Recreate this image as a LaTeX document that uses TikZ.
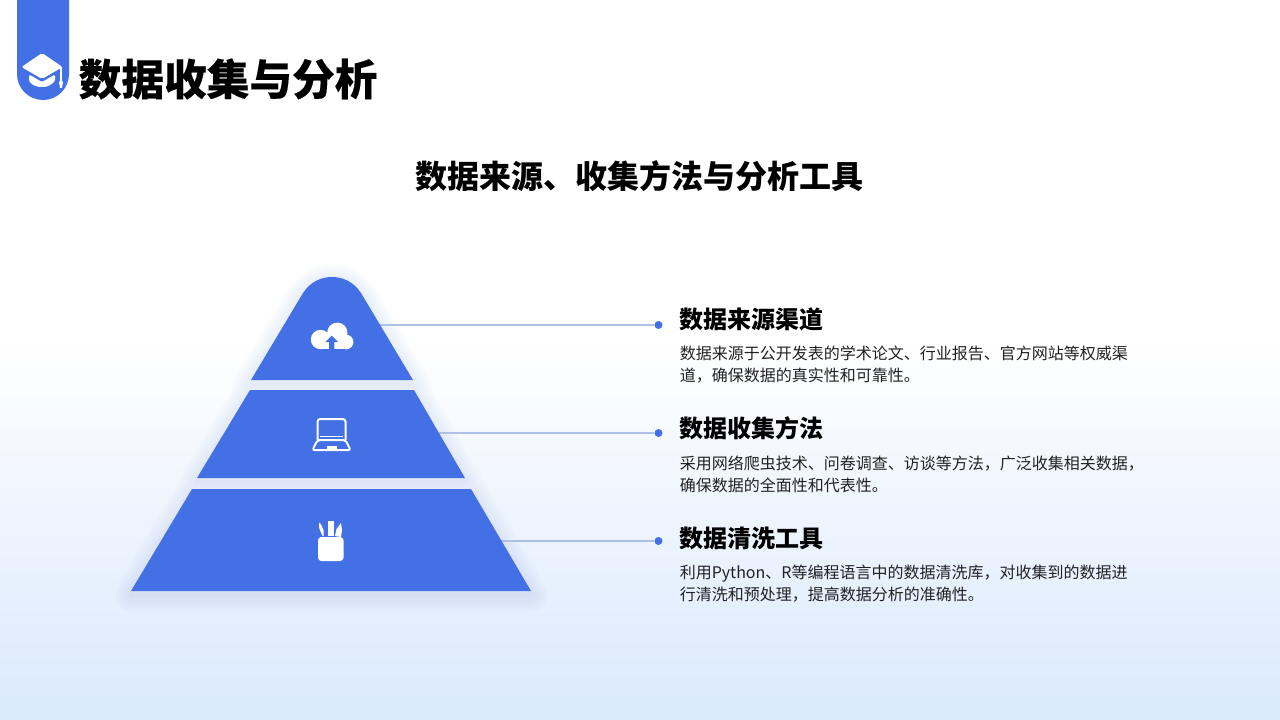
\documentclass[tikz,border=0pt]{standalone}
\usepackage{fontspec}
\setmainfont{Noto Sans CJK SC}
\newfontfamily\heavycjk[BoldFeatures={FakeBold=0.25}]{Noto Sans CJK SC}
\usetikzlibrary{calc}
\definecolor{brand}{HTML}{4470E6}
\definecolor{bgend}{HTML}{DAE9FD}
\definecolor{leader}{HTML}{ADC1E8}
\definecolor{bodyc}{HTML}{222222}
\tikzset{
  px/.style={x=0.75pt,y=-0.75pt},
  titletext/.style={anchor=west,inner sep=0,font=\fontsize{32}{38}\selectfont\heavycjk\bfseries,text=black},
  subtitletext/.style={anchor=center,inner sep=0,font=\fontsize{24}{30}\selectfont\bfseries,text=black},
  headtext/.style={anchor=west,inner sep=0,font=\fontsize{18}{22}\selectfont\bfseries,text=black},
  bodytext/.style={anchor=west,inner sep=0,align=left,text=bodyc,font=\fontsize{12}{16.5}\selectfont},
  dotnode/.style={circle,fill=brand,inner sep=0,minimum size=6pt},
  leaderline/.style={draw=leader,line width=0.8pt},
  tier/.style={fill=brand},
  ico/.style={fill=white,draw=none},
  icoline/.style={draw=white,fill=none,line width=1.5pt,line join=round},
  glow/.style={draw=brand,draw opacity=0.012,fill=none,line join=round},
}
\newcommand{\tierone}{(251,380) -- (303,293) .. controls (311,281) and (322,277) .. (332,277) .. controls (342,277) and (353,281) .. (361,293) -- (413,380) -- cycle}
\newcommand{\tiertwo}{(197,478) -- (250,390) -- (414,390) -- (465,478) -- cycle}
\newcommand{\tierthree}{(131,591) -- (192,489) -- (471,489) -- (531,591) -- cycle}
\begin{document}
\begin{tikzpicture}[px]
\useasboundingbox (0,0) rectangle (1280,720);
% background
\fill[white] (0,0) rectangle (1280,341);
\shade[top color=white,bottom color=bgend] (0,340) rectangle (1280,720);
% header tab
\fill[brand] (17,0) -- (69,0) -- (69,74) .. controls (69,88.4) and (57.4,100) .. (43,100) .. controls (28.6,100) and (17,88.4) .. (17,74) -- cycle;
% cap icon
\fill[white,rounded corners=1.5pt] (42,53) -- (62.5,67) -- (42,79) -- (21.5,67) -- cycle;
\fill[white,rounded corners=1pt] (29,74.5) -- (42,82) -- (55,74.5) -- (55,81) .. controls (51,85) and (47,87) .. (42,87) .. controls (37,87) and (32,85) .. (29,81) -- cycle;
\draw[white,line width=0.9pt] (61,67) -- (61,84);
\fill[white] (61,82.5) circle[radius=2];
\fill[white] (59.2,83) -- (62.8,83) -- (62,88) -- (60,88) -- cycle;
% title texts
\node[titletext] (title) at (78.5,79) {数据收集与分析};
\node[subtitletext] (subtitle) at (639.5,176) {数据来源、收集方法与分析工具};
% glow
\foreach \w in {3,7,...,35}{
  \path[glow,line width=\w*0.75pt,yshift=-3pt] \tierone \tiertwo \tierthree;
}
% leaders
\coordinate (a1) at (380,325);
\coordinate (a2) at (439,433);
\coordinate (a3) at (501,541);
\node[dotnode] (d1) at (658.5,325) {};
\node[dotnode] (d2) at (658.5,433) {};
\node[dotnode] (d3) at (658.5,541) {};
\draw[leaderline] (a1) -- (d1);
\draw[leaderline] (a2) -- (d2);
\draw[leaderline] (a3) -- (d3);
% tiers
\fill[tier] \tierone;
\fill[tier] \tiertwo;
\fill[tier] \tierthree;
% cloud icon
\fill[ico] (320.5,339.5) circle[radius=9.7];
\fill[ico] (337.3,332.8) circle[radius=10.2];
\fill[ico] (346,342) circle[radius=7.4];
\fill[ico] (320.5,336) rectangle (346,349.3);
\fill[brand] (331.7,335.7) -- (338,342) -- (334.4,342) -- (334.4,350) -- (329,350) -- (329,342) -- (325.4,342) -- cycle;
% laptop icon
\draw[icoline,rounded corners=2pt] (317.5,440) -- (317.5,419) -- (345.5,419) -- (345.5,440);
\draw[white,line width=0.5pt] (320,436) -- (343,436);
\draw[icoline,rounded corners=1.5pt] (317.5,440) -- (345.5,440) -- (350.5,450) -- (312.5,450) -- cycle;
\fill[ico] (326.5,445.5) rectangle (336.5,449);
% cup icon
\fill[ico,rounded corners=2.5pt] (318,537) -- (343.5,537) -- (343.5,561) -- (318,561) -- cycle;
\fill[ico] (327.5,521) rectangle (333.5,536);
\fill[ico] (322.5,536) -- (319.5,529) .. controls (318,526) and (319,524) .. (319.5,522.5) .. controls (321,525) and (323,527) .. (323.5,530) -- (323.5,536) -- cycle;
\fill[ico] (335,536) -- (336.5,529) -- (341,523) -- (342,530) -- (341,537) -- cycle;
% right column
\node[headtext] (h1) at (679.5,319) {数据来源渠道};
\node[bodytext] (b1) at (679.5,365) {数据来源于公开发表的学术论文、行业报告、官方网站等权威渠\\道，确保数据的真实性和可靠性。};
\node[headtext] (h2) at (679.5,428) {数据收集方法};
\node[bodytext] (b2) at (679.5,474.5) {采用网络爬虫技术、问卷调查、访谈等方法，广泛收集相关数据，\\确保数据的全面性和代表性。};
\node[headtext] (h3) at (679.5,538) {数据清洗工具};
\node[bodytext] (b3) at (679.5,584) {利用Python、R等编程语言中的数据清洗库，对收集到的数据进\\行清洗和预处理，提高数据分析的准确性。};
\end{tikzpicture}
\end{document}
